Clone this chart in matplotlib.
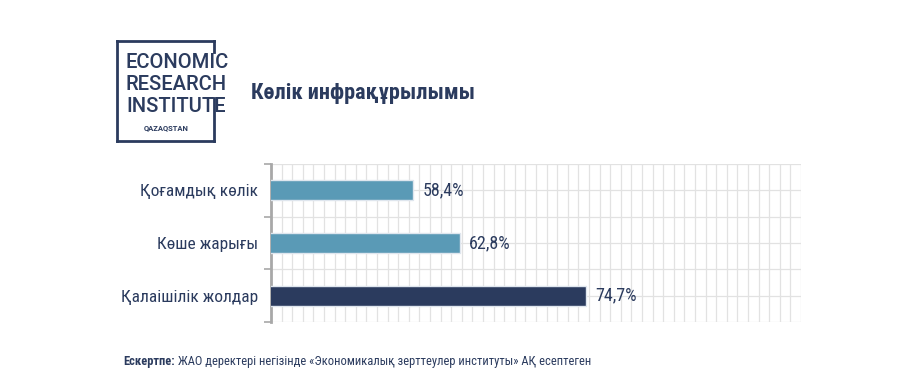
import matplotlib
matplotlib.use("Agg")
import matplotlib.pyplot as plt
from matplotlib import font_manager
import numpy as np

# data
categories = ["Қоғамдық көлік", "Көше жарығы", "Қалаішілік жолдар"]
values = [58.4, 62.8, 74.7]
value_labels = ["58,4%", "62,8%", "74,7%"]
bar_colors = ["#5a9ab6", "#5a9ab6", "#2b3b5e"]

title = "Көлік инфрақұрылымы"
note_bold = "Ескертпе:"
note_text = " ЖАО деректері негізінде «Экономикалық зерттеулер институты» АҚ есептеген"
logo_lines = ["ECONOMIC", "RESEARCH", "INSTITUTE"]
logo_small = "QAZAQSTAN"

navy = "#2b3b5e"

# pick a narrow font if one is there
names = {f.name for f in font_manager.fontManager.ttflist}
narrow = None
for n in ["Roboto Condensed", "Liberation Sans Narrow", "DejaVu Sans Condensed", "Roboto"]:
    if n in names:
        narrow = n
        break
fam = [narrow, "DejaVu Sans"] if narrow else ["DejaVu Sans"]
plt.rcParams['font.family'] = fam

fig = plt.figure(figsize=(9.24, 3.92), dpi=100)
ax = fig.add_axes([271/924, 1-322/392, 530/924, 158/392])

y = np.arange(len(categories))
ax.barh(y, values, height=0.38, color=bar_colors, edgecolor="#dfe6ee", linewidth=1, zorder=3)
for yi, v, lab in zip(y, values, value_labels):
    ax.text(v + 0.9, yi, lab, va="center", ha="left", fontsize=13, color=navy)

ax.set_xlim(45, 95)
ax.set_ylim(2.5, -0.5)
ax.set_xticks(np.arange(45, 96, 1))
ax.set_xticklabels([])
ax.set_yticks(y)
ax.set_yticklabels(categories, fontsize=12.5, color=navy)
ax.set_yticks([-0.5, 0.5, 1.5, 2.5], minor=True)
ax.tick_params(axis="x", length=0)
ax.tick_params(axis="y", which="major", length=0, pad=9)
ax.tick_params(axis="y", which="minor", length=5, color="#a8a8a8", width=1.2)
ax.grid(True, which="both", color="#e2e2e2", linewidth=0.9, zorder=0)
for s in ["top", "right", "bottom"]:
    ax.spines[s].set_visible(False)
ax.spines["left"].set_color("#a8a8a8")
ax.spines["left"].set_linewidth(2)
ax.set_axisbelow(True)

# logo box
lw = 2
fig.add_artist(plt.Line2D([117/924, 117/924], [1-41/392, 1-141/392], color=navy, lw=lw))
fig.add_artist(plt.Line2D([117/924, 214/924], [1-41/392, 1-41/392], color=navy, lw=lw))
fig.add_artist(plt.Line2D([117/924, 214/924], [1-141/392, 1-141/392], color=navy, lw=lw))
fig.add_artist(plt.Line2D([214/924, 214/924], [1-41/392, 1-52/392], color=navy, lw=lw))
fig.add_artist(plt.Line2D([214/924, 214/924], [1-98/392, 1-141/392], color=navy, lw=lw))
for i, t in enumerate(logo_lines):
    fig.text(126/924, 1-(62 + i*22)/392, t, fontsize=14.5, color=navy, va="center", ha="left",
             family=["Roboto", "DejaVu Sans"], weight="medium")
fig.text(166/924, 1-128/392, logo_small, fontsize=5.5, color=navy, va="center", ha="center",
         family=["Roboto", "DejaVu Sans"], weight="bold")

fig.text(251/924, 1-93/392, title, fontsize=16, color=navy, va="center", ha="left", weight="bold")

t1 = fig.text(123/924, 1-362/392, note_bold, fontsize=9, color=navy, va="center", ha="left", weight="bold")
fig.canvas.draw()
bb = t1.get_window_extent()
fig.text(bb.x1/924, 1-362/392, note_text, fontsize=9, color=navy, va="center", ha="left")

fig.savefig("out.png", dpi=100, facecolor="white")
